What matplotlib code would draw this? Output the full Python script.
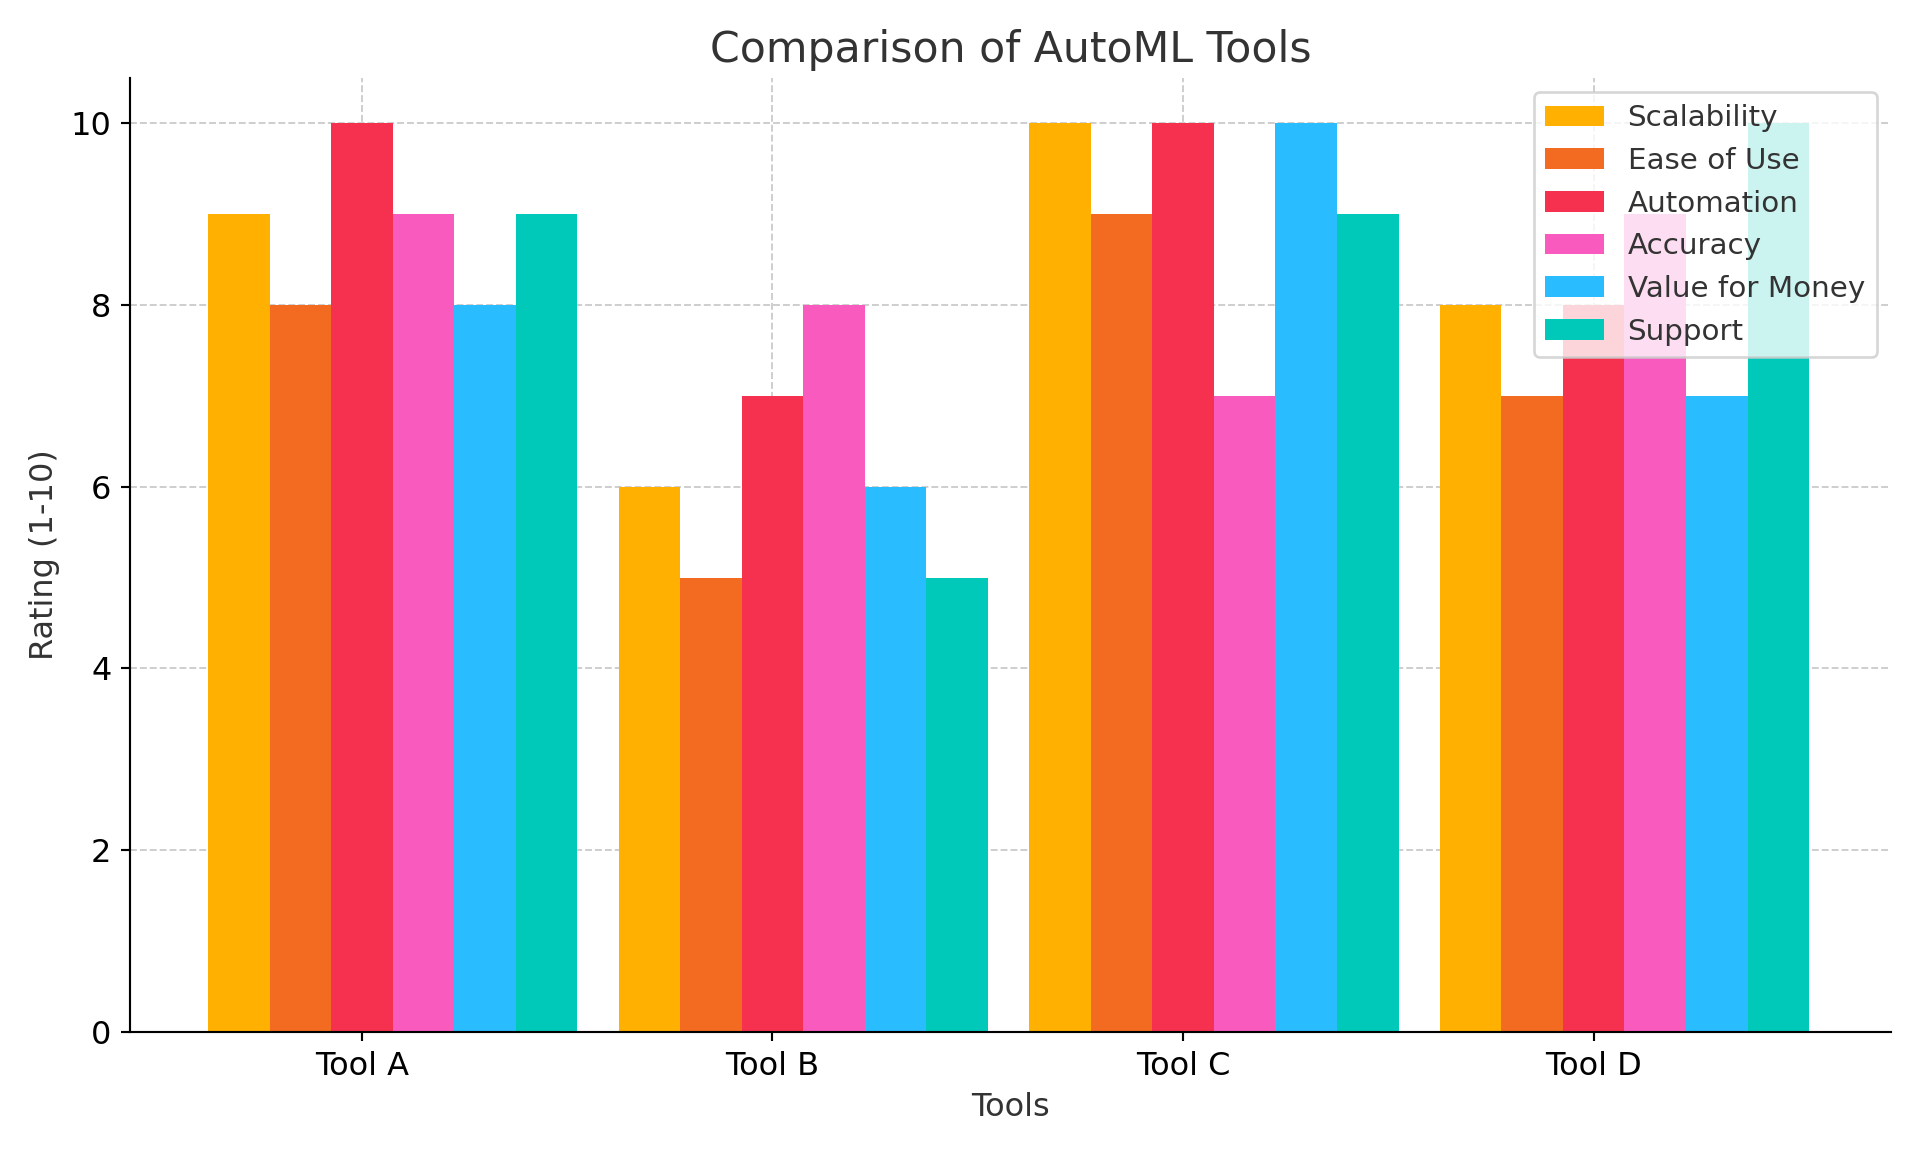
import numpy as np
import matplotlib.pyplot as plt

tools = ['Tool A', 'Tool B', 'Tool C', 'Tool D']
criteria = ['Scalability', 'Ease of Use', 'Automation', 'Accuracy', 'Value for Money', 'Support']
ratings = {
    'Scalability': [9, 6, 10, 8],
    'Ease of Use': [8, 5, 9, 7],
    'Automation': [10, 7, 10, 8],
    'Accuracy': [9, 8, 7, 9],
    'Value for Money': [8, 6, 10, 7],
    'Support': [9, 5, 9, 10],
}
colors = ['#FFB000', '#F26B21', '#F5314F', '#F85ABE', '#29BCFF', '#00C9BA']

fig, ax = plt.subplots(figsize=(10, 6), dpi=192)
x = np.arange(len(tools))
width = 0.15

for i, name in enumerate(criteria):
    ax.bar(x + (i - 2) * width, ratings[name], width, label=name, color=colors[i], zorder=2)

ax.set_xticks(x)
ax.set_xticklabels(tools, fontsize=12)
ax.tick_params(axis='y', labelsize=12)
ax.set_xlim(-0.565, 3.725)
ax.set_ylim(0, 10.5)
ax.set_xlabel('Tools', fontsize=12, color='#333333')
ax.set_ylabel('Rating (1-10)', fontsize=12, color='#333333')
ax.set_title('Comparison of AutoML Tools', fontsize=16, color='#333333')
ax.grid(True, linestyle='--', color='#cccccc', linewidth=0.7, zorder=0)
ax.spines['top'].set_visible(False)
ax.spines['right'].set_visible(False)
leg = ax.legend(loc='upper right', fontsize=11)
for t in leg.get_texts():
    t.set_color('#333333')

plt.tight_layout()
plt.savefig('out.png', dpi=192)
